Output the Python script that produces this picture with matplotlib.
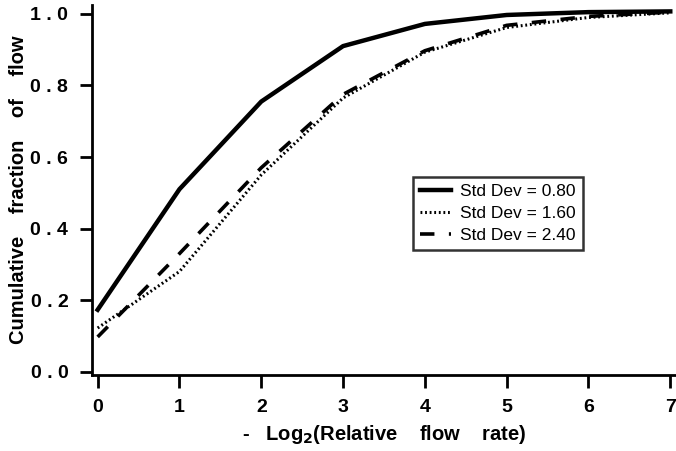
import matplotlib.pyplot as plt
from matplotlib.ticker import FixedLocator

# datos
x = [0, 1, 2, 3, 4, 5, 6, 7]
sd_080 = [0.173, 0.51, 0.755, 0.91, 0.972, 0.997, 1.005, 1.007]
sd_160 = [0.122, 0.28, 0.55, 0.765, 0.893, 0.962, 0.99, 1.003]
sd_240 = [0.097, 0.33, 0.57, 0.775, 0.897, 0.968, 0.993, 1.005]

yticks = [0.0, 0.2, 0.4, 0.6, 0.8, 1.0]
yticklabels = ['0 . 0', '0 . 2', '0 . 4', '0 . 6', '0 . 8', '1 . 0']
xticks = [0, 1, 2, 3, 4, 5, 6, 7]

plt.rcParams['font.family'] = ['Liberation Sans', 'DejaVu Sans']

fig = plt.figure(figsize=(6.76, 4.51), dpi=100)
ax = fig.add_axes([0.136, 0.168, 0.864, 0.821])

ax.plot(x, sd_080, color='black', lw=3.2, solid_joinstyle='round',
        label='Std Dev = 0.80')
ax.plot(x, sd_160, color='black', lw=2.2, linestyle=(0, (0.6, 0.9)),
        label='Std Dev = 1.60')
ax.plot(x, sd_240, color='black', lw=2.6, linestyle=(0, (4, 4)),
        label='Std Dev = 2.40')

ax.set_xlim(-0.07, 7.07)
ax.set_ylim(-0.01, 1.025)

ax.xaxis.set_major_locator(FixedLocator(xticks))
ax.set_xticklabels([str(t) for t in xticks])
ax.yaxis.set_major_locator(FixedLocator(yticks))
ax.set_yticklabels(yticklabels)

for s in ['top', 'right']:
    ax.spines[s].set_visible(False)
for s in ['left', 'bottom']:
    ax.spines[s].set_linewidth(2)

ax.tick_params(axis='both', direction='out', length=9, width=2, pad=8,
               labelsize=14)
for lab in ax.get_xticklabels() + ax.get_yticklabels():
    lab.set_fontweight('bold')

ax.set_xlabel('-   Log$_\\mathbf{2}$(Relative    flow    rate)', fontsize=14.5,
              fontweight='bold', labelpad=5)
ax.set_ylabel('Cumulative    fraction    of    flow', fontsize=14.5,
              fontweight='bold', labelpad=2)

leg = ax.legend(loc='upper left', bbox_to_anchor=(0.55, 0.535), fontsize=12.5,
                frameon=True, fancybox=False, edgecolor='black',
                handlelength=1.8, borderpad=0.4, labelspacing=0.4,
                handletextpad=0.5, borderaxespad=0)
leg.get_frame().set_linewidth(1.8)

fig.savefig('out.png', dpi=100)
